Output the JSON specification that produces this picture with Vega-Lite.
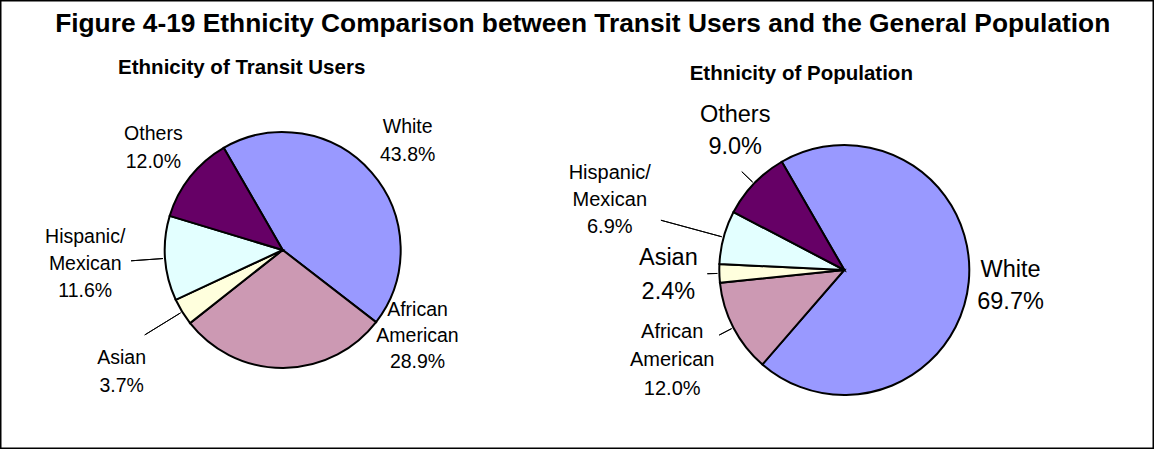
{
  "$schema": "https://vega.github.io/schema/vega-lite/v6.json",
  "width": 1154,
  "height": 449,
  "autosize": "none",
  "padding": 0,
  "background": "white",
  "config": {
    "view": {"stroke": "black", "strokeWidth": 3},
    "font": "Liberation Sans",
    "text": {"font": "Liberation Sans", "color": "black"}
  },
  "datasets": {
    "pies": [
      {"chart": "Transit Users", "eth": "White", "pct": 43.8, "idx": 1, "label": "White\n43.8%"},
      {"chart": "Transit Users", "eth": "African American", "pct": 28.9, "idx": 2, "label": "African\nAmerican\n28.9%"},
      {"chart": "Transit Users", "eth": "Asian", "pct": 3.7, "idx": 3, "label": "Asian\n3.7%"},
      {"chart": "Transit Users", "eth": "Hispanic/Mexican", "pct": 11.6, "idx": 4, "label": "Hispanic/\nMexican\n11.6%"},
      {"chart": "Transit Users", "eth": "Others", "pct": 12.0, "idx": 5, "label": "Others\n12.0%"},
      {"chart": "Population", "eth": "White", "pct": 69.7, "idx": 1, "label": "White\n69.7%"},
      {"chart": "Population", "eth": "African American", "pct": 12.0, "idx": 2, "label": "African\nAmerican\n12.0%"},
      {"chart": "Population", "eth": "Asian", "pct": 2.4, "idx": 3, "label": "Asian\n2.4%"},
      {"chart": "Population", "eth": "Hispanic/Mexican", "pct": 6.9, "idx": 4, "label": "Hispanic/\nMexican\n6.9%"},
      {"chart": "Population", "eth": "Others", "pct": 9.0, "idx": 5, "label": "Others\n9.0%"}
    ],
    "heads": [
      {"chart": "Transit Users", "kind": "main", "txt": "Figure 4-19 Ethnicity Comparison between Transit Users and the General Population"},
      {"chart": "Transit Users", "kind": "sub", "txt": "Ethnicity of Transit Users"},
      {"chart": "Population", "kind": "sub", "txt": "Ethnicity of Population"}
    ]
  },
  "data": {"name": "pies"},
  "encoding": {
    "x": {"field": "chart", "type": "nominal", "axis": null,
      "scale": {"type": "point", "domain": ["Transit Users", "Population"], "padding": 0.5274, "align": 0.4772}},
    "y": {"field": "chart", "type": "nominal", "axis": null,
      "scale": {"type": "point", "domain": ["Transit Users", "Population"], "range": [250, 270], "padding": 0}}
  },
  "layer": [
    {
      "transform": [{"filter": "datum.chart === 'Transit Users'"}],
      "mark": {"type": "arc", "radius": 118, "stroke": "black", "strokeWidth": 2},
      "encoding": {
        "theta": {"field": "pct", "type": "quantitative", "stack": true,
          "scale": {"domain": [0, 100], "range": [-0.5236, 5.7596]}},
        "order": {"field": "idx", "type": "quantitative"},
        "color": {"field": "eth", "type": "nominal", "legend": null,
          "scale": {"domain": ["White", "African American", "Asian", "Hispanic/Mexican", "Others"],
            "range": ["#9999FF", "#CC99B3", "#FFFFDD", "#E3FFFF", "#660066"]}}
      }
    },
    {
      "transform": [{"filter": "datum.chart === 'Population'"}],
      "mark": {"type": "arc", "radius": 125, "stroke": "black", "strokeWidth": 2},
      "encoding": {
        "theta": {"field": "pct", "type": "quantitative", "stack": true,
          "scale": {"domain": [0, 100], "range": [-0.5236, 5.7596]}},
        "order": {"field": "idx", "type": "quantitative"},
        "color": {"field": "eth", "type": "nominal", "legend": null}
      }
    },
    {
      "transform": [{"filter": "datum.chart === 'Transit Users'"}],
      "mark": {"type": "arc", "filled": false, "stroke": "black", "strokeWidth": 1, "radius": 152, "radius2": 120, "padAngle": 3},
      "encoding": {
        "theta": {"field": "pct", "type": "quantitative", "stack": true},
        "order": {"field": "idx", "type": "quantitative"},
        "detail": {"field": "eth", "type": "nominal"},
        "strokeOpacity": {"condition": {"test": "datum.eth === 'Hispanic/Mexican'", "value": 1}, "value": 0}
      }
    },
    {
      "transform": [{"filter": "datum.chart === 'Transit Users'"}],
      "mark": {"type": "arc", "filled": false, "stroke": "black", "strokeWidth": 1, "radius": 162, "radius2": 120, "padAngle": 3},
      "encoding": {
        "theta": {"field": "pct", "type": "quantitative", "stack": true},
        "order": {"field": "idx", "type": "quantitative"},
        "detail": {"field": "eth", "type": "nominal"},
        "strokeOpacity": {"condition": {"test": "datum.eth === 'Asian'", "value": 1}, "value": 0}
      }
    },
    {
      "transform": [{"filter": "datum.chart === 'Population'"}],
      "mark": {"type": "arc", "filled": false, "stroke": "black", "strokeWidth": 1, "radius": 142, "radius2": 127, "padAngle": 3},
      "encoding": {
        "theta": {"field": "pct", "type": "quantitative", "stack": true},
        "order": {"field": "idx", "type": "quantitative"},
        "detail": {"field": "eth", "type": "nominal"},
        "strokeOpacity": {"condition": {"test": "datum.eth === 'Others'", "value": 1}, "value": 0}
      }
    },
    {
      "transform": [{"filter": "datum.chart === 'Population'"}],
      "mark": {"type": "arc", "filled": false, "stroke": "black", "strokeWidth": 1, "radius": 190, "radius2": 127, "padAngle": 3},
      "encoding": {
        "theta": {"field": "pct", "type": "quantitative", "stack": true},
        "order": {"field": "idx", "type": "quantitative"},
        "detail": {"field": "eth", "type": "nominal"},
        "strokeOpacity": {"condition": {"test": "datum.eth === 'Hispanic/Mexican'", "value": 1}, "value": 0}
      }
    },
    {
      "transform": [{"filter": "datum.chart === 'Population'"}],
      "mark": {"type": "arc", "filled": false, "stroke": "black", "strokeWidth": 1, "radius": 137, "radius2": 127, "padAngle": 3},
      "encoding": {
        "theta": {"field": "pct", "type": "quantitative", "stack": true},
        "order": {"field": "idx", "type": "quantitative"},
        "detail": {"field": "eth", "type": "nominal"},
        "strokeOpacity": {"condition": {"test": "datum.eth === 'Asian'", "value": 1}, "value": 0}
      }
    },
    {
      "transform": [{"filter": "datum.chart === 'Population'"}],
      "mark": {"type": "arc", "filled": false, "stroke": "black", "strokeWidth": 1, "radius": 141, "radius2": 127, "padAngle": 3},
      "encoding": {
        "theta": {"field": "pct", "type": "quantitative", "stack": true},
        "order": {"field": "idx", "type": "quantitative"},
        "detail": {"field": "eth", "type": "nominal"},
        "strokeOpacity": {"condition": {"test": "datum.eth === 'African American'", "value": 1}, "value": 0}
      }
    },
    {
      "transform": [{"filter": "datum.chart === 'Transit Users'"}],
      "mark": {"type": "text", "radius": 166, "dy": -14, "fontSize": 19.5, "lineHeight": 28, "lineBreak": "\n", "align": "center", "baseline": "middle"},
      "encoding": {
        "theta": {"field": "pct", "type": "quantitative", "stack": true},
        "order": {"field": "idx", "type": "quantitative"},
        "detail": {"field": "eth", "type": "nominal"},
        "text": {"condition": {"test": "datum.eth === 'White'", "field": "label"}, "value": ""}
      }
    },
    {
      "transform": [{"filter": "datum.chart === 'Transit Users'"}],
      "mark": {"type": "text", "radius": 165, "dy": -14, "fontSize": 19.5, "lineHeight": 28, "lineBreak": "\n", "align": "center", "baseline": "middle"},
      "encoding": {
        "theta": {"field": "pct", "type": "quantitative", "stack": true},
        "order": {"field": "idx", "type": "quantitative"},
        "detail": {"field": "eth", "type": "nominal"},
        "text": {"condition": {"test": "datum.eth === 'Others'", "field": "label"}, "value": ""}
      }
    },
    {
      "transform": [{"filter": "datum.chart === 'Transit Users'"}],
      "mark": {"type": "text", "radius": 198, "dy": -27, "fontSize": 19.5, "lineHeight": 27, "lineBreak": "\n", "align": "center", "baseline": "middle"},
      "encoding": {
        "theta": {"field": "pct", "type": "quantitative", "stack": true},
        "order": {"field": "idx", "type": "quantitative"},
        "detail": {"field": "eth", "type": "nominal"},
        "text": {"condition": {"test": "datum.eth === 'Hispanic/Mexican'", "field": "label"}, "value": ""}
      }
    },
    {
      "transform": [{"filter": "datum.chart === 'Transit Users'"}],
      "mark": {"type": "text", "radius": 202, "dx": 11, "dy": 2, "fontSize": 19.5, "lineHeight": 28, "lineBreak": "\n", "align": "center", "baseline": "middle"},
      "encoding": {
        "theta": {"field": "pct", "type": "quantitative", "stack": true},
        "order": {"field": "idx", "type": "quantitative"},
        "detail": {"field": "eth", "type": "nominal"},
        "text": {"condition": {"test": "datum.eth === 'Asian'", "field": "label"}, "value": ""}
      }
    },
    {
      "transform": [{"filter": "datum.chart === 'Transit Users'"}],
      "mark": {"type": "text", "radius": 160, "dx": 134, "dy": -100, "fontSize": 19.5, "lineHeight": 26, "lineBreak": "\n", "align": "center", "baseline": "middle"},
      "encoding": {
        "theta": {"field": "pct", "type": "quantitative", "stack": true},
        "order": {"field": "idx", "type": "quantitative"},
        "detail": {"field": "eth", "type": "nominal"},
        "text": {"condition": {"test": "datum.eth === 'African American'", "field": "label"}, "value": ""}
      }
    },
    {
      "transform": [{"filter": "datum.chart === 'Population'"}],
      "mark": {"type": "text", "radius": 167, "dy": -16, "fontSize": 23.5, "lineHeight": 32, "lineBreak": "\n", "align": "center", "baseline": "middle"},
      "encoding": {
        "theta": {"field": "pct", "type": "quantitative", "stack": true},
        "order": {"field": "idx", "type": "quantitative"},
        "detail": {"field": "eth", "type": "nominal"},
        "text": {"condition": {"test": "datum.eth === 'White'", "field": "label"}, "value": ""}
      }
    },
    {
      "transform": [{"filter": "datum.chart === 'Population'"}],
      "mark": {"type": "text", "radius": 176, "dy": -17, "fontSize": 23.5, "lineHeight": 34, "lineBreak": "\n", "align": "center", "baseline": "middle"},
      "encoding": {
        "theta": {"field": "pct", "type": "quantitative", "stack": true},
        "order": {"field": "idx", "type": "quantitative"},
        "detail": {"field": "eth", "type": "nominal"},
        "text": {"condition": {"test": "datum.eth === 'Asian'", "field": "label"}, "value": ""}
      }
    },
    {
      "transform": [{"filter": "datum.chart === 'Population'"}],
      "mark": {"type": "text", "radius": 172, "dx": 15, "dy": -36, "fontSize": 23.5, "lineHeight": 32, "lineBreak": "\n", "align": "center", "baseline": "middle"},
      "encoding": {
        "theta": {"field": "pct", "type": "quantitative", "stack": true},
        "order": {"field": "idx", "type": "quantitative"},
        "detail": {"field": "eth", "type": "nominal"},
        "text": {"condition": {"test": "datum.eth === 'Others'", "field": "label"}, "value": ""}
      }
    },
    {
      "transform": [{"filter": "datum.chart === 'Population'"}],
      "mark": {"type": "text", "radius": 243, "dy": -33, "fontSize": 20, "lineHeight": 27, "lineBreak": "\n", "align": "center", "baseline": "middle"},
      "encoding": {
        "theta": {"field": "pct", "type": "quantitative", "stack": true},
        "order": {"field": "idx", "type": "quantitative"},
        "detail": {"field": "eth", "type": "nominal"},
        "text": {"condition": {"test": "datum.eth === 'Hispanic/Mexican'", "field": "label"}, "value": ""}
      }
    },
    {
      "transform": [{"filter": "datum.chart === 'Population'"}],
      "mark": {"type": "text", "radius": 194, "dy": -28, "fontSize": 20, "lineHeight": 28.5, "lineBreak": "\n", "align": "center", "baseline": "middle"},
      "encoding": {
        "theta": {"field": "pct", "type": "quantitative", "stack": true},
        "order": {"field": "idx", "type": "quantitative"},
        "detail": {"field": "eth", "type": "nominal"},
        "text": {"condition": {"test": "datum.eth === 'African American'", "field": "label"}, "value": ""}
      }
    },
    {
      "data": {"name": "heads"},
      "transform": [{"filter": "datum.kind === 'main'"}],
      "mark": {"type": "text", "dx": 300, "dy": -218, "fontSize": 26.3, "fontWeight": "bold", "align": "center", "baseline": "alphabetic"},
      "encoding": {"text": {"field": "txt"}}
    },
    {
      "data": {"name": "heads"},
      "transform": [{"filter": "datum.kind === 'sub' && datum.chart === 'Transit Users'"}],
      "mark": {"type": "text", "dx": -41, "dy": -176, "fontSize": 20.5, "fontWeight": "bold", "align": "center", "baseline": "alphabetic"},
      "encoding": {"text": {"field": "txt"}}
    },
    {
      "data": {"name": "heads"},
      "transform": [{"filter": "datum.kind === 'sub' && datum.chart === 'Population'"}],
      "mark": {"type": "text", "dx": -43, "dy": -190, "fontSize": 20.5, "fontWeight": "bold", "align": "center", "baseline": "alphabetic"},
      "encoding": {"text": {"field": "txt"}}
    }
  ]
}
